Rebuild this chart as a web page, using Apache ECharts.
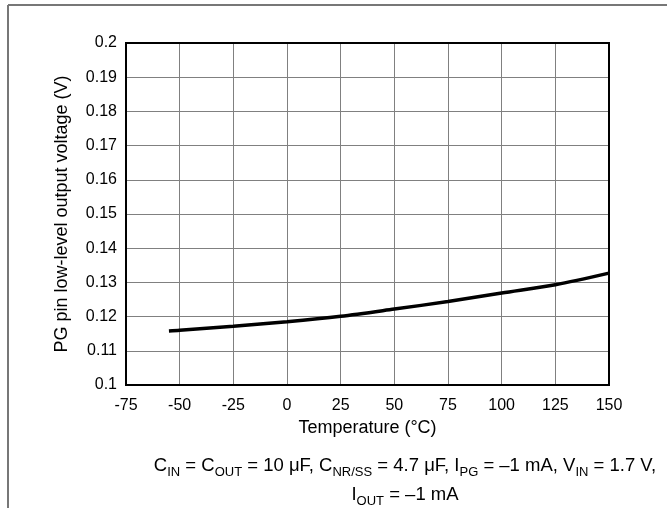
<!DOCTYPE html>
<html>
<head>
<meta charset="utf-8">
<script src="https://cdn.jsdelivr.net/npm/echarts@6/dist/echarts.min.js"></script>
<style>html,body{margin:0;padding:0;background:#fff;}#c{width:667px;height:508px;}</style>
</head>
<body>
<div id="c"></div>
<script>
const temperatures = [-55, -50, -25, 0, 25, 50, 75, 100, 125, 150];
const pgVoltage = [0.1158, 0.1160, 0.1172, 0.1185, 0.1201, 0.1222, 0.1244, 0.1269, 0.1293, 0.1327];
const xTicks = [-75, -50, -25, 0, 25, 50, 75, 100, 125, 150];
const yTicks = [0.1, 0.11, 0.12, 0.13, 0.14, 0.15, 0.16, 0.17, 0.18, 0.19, 0.2];
const xTitle = 'Temperature (°C)';
const yTitle = 'PG pin low-level output voltage (V)';

const chart = echarts.init(document.getElementById('c'), null, {renderer: 'canvas'});
const font = 'Liberation Sans, Arial, sans-serif';
const subStyle = {fontSize: 13, fontFamily: font, color: '#000', lineHeight: 13, verticalAlign: 'bottom'};

chart.setOption({
  animation: false,
  backgroundColor: '#fff',
  grid: {left: 126, right: 58, top: 43, bottom: 123, show: true, borderColor: '#000', borderWidth: 2, backgroundColor: 'transparent', z: 5},
  xAxis: {
    type: 'value', min: xTicks[0], max: xTicks[xTicks.length - 1], interval: 25,
    name: xTitle, nameLocation: 'middle', nameGap: 33,
    nameTextStyle: {fontSize: 18, fontFamily: font, color: '#000'},
    axisLine: {show: false}, axisTick: {show: false},
    axisLabel: {fontSize: 16, fontFamily: font, color: '#000', margin: 13},
    splitLine: {show: true, lineStyle: {color: '#808080', width: 1}}
  },
  yAxis: {
    type: 'value', min: yTicks[0], max: yTicks[yTicks.length - 1], interval: 0.01,
    name: yTitle, nameLocation: 'middle', nameGap: 55, nameRotate: 90,
    nameTextStyle: {fontSize: 18, fontFamily: font, color: '#000'},
    axisLine: {show: false}, axisTick: {show: false},
    axisLabel: {fontSize: 16, fontFamily: font, color: '#000', margin: 9,
      formatter: v => String(parseFloat(v.toFixed(2)))},
    splitLine: {show: true, lineStyle: {color: '#808080', width: 1}}
  },
  series: [{
    type: 'line', data: temperatures.map((t, i) => [t, pgVoltage[i]]),
    smooth: 0.3, showSymbol: false, symbol: 'none',
    lineStyle: {color: '#000', width: 3.5}, z: 10
  }],
  graphic: [
    {type: 'line', shape: {x1: 8, y1: 5, x2: 8, y2: 508}, style: {stroke: '#777', lineWidth: 2}},
    {type: 'line', shape: {x1: 8, y1: 5, x2: 667, y2: 5}, style: {stroke: '#777', lineWidth: 2}},
    {type: 'text', x: 405, y: 466, style: {
      text: 'C{s|IN} = C{s|OUT} = 10 μF, C{s|NR/SS} = 4.7 μF, I{s|PG} = –1 mA, V{s|IN} = 1.7 V,',
      align: 'center', verticalAlign: 'middle', fontSize: 18.5, fontFamily: font, fill: '#000', lineHeight: 26,
      rich: {s: subStyle}
    }},
    {type: 'text', x: 405, y: 495, style: {
      text: 'I{s|OUT} = –1 mA',
      align: 'center', verticalAlign: 'middle', fontSize: 18.5, fontFamily: font, fill: '#000', lineHeight: 26,
      rich: {s: subStyle}
    }}
  ]
});
</script>
</body>
</html>
